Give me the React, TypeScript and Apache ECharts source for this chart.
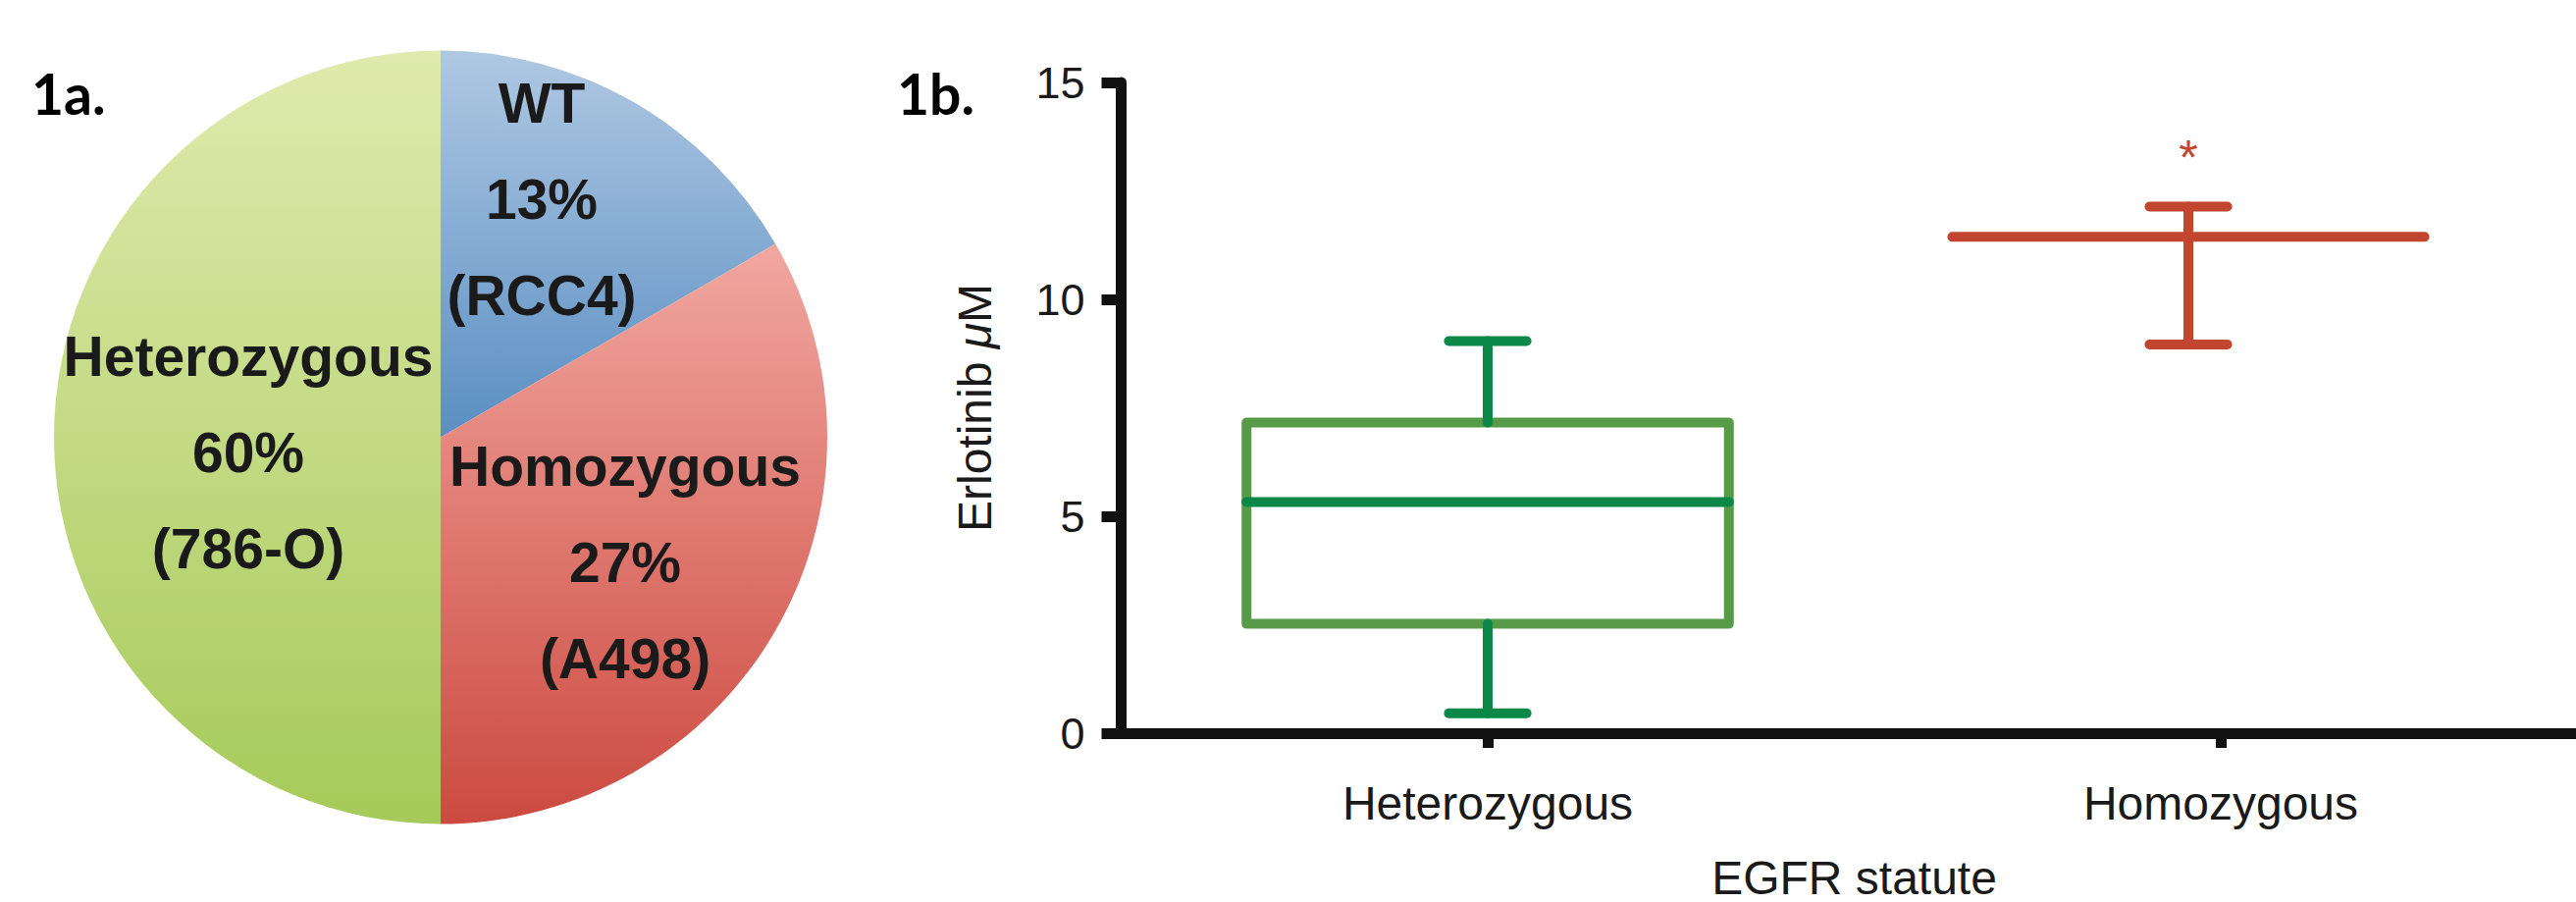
import React, { useEffect, useRef } from "react";
import * as echarts from "echarts";

// ---------- data ----------
const PIE_NAMES = ["WT", "Homozygous", "Heterozygous"];
const PIE_COUNTS = [1, 2, 3];
const PIE_PCT_LABELS = ["13%", "27%", "60%"];
const PIE_CELL_LINES = ["RCC4", "A498", "786-O"];

const CATEGORIES = ["Heterozygous", "Homozygous"];
const BOX_MIN = [0.46, 8.96];
const BOX_Q1 = [2.52, 11.44];
const BOX_MEDIAN = [5.33, 11.44];
const BOX_Q3 = [7.16, 11.44];
const BOX_MAX = [9.04, 12.14];
const SIG_MARKS = ["", "*"];
const SIG_Y: (number | null)[] = [null, 13.5];

const Y_MIN = 0;
const Y_MAX = 15;
const Y_INTERVAL = 5;

// ---------- styles / layout ----------
const PIE_GRADIENTS = [
  ["#afc8e2", "#5a8ec3"],
  ["#f1a7a0", "#cc4a40"],
  ["#e0eaae", "#a6ca59"],
];
const PIE_LABEL_POS = [
  [552, 203],
  [637, 573],
  [253, 461],
];
const BOX_COLORS = ["#579b49", "#c2452f"];
const LINE_COLORS = ["#0b8747", "#c2452f"];
const BOX_X_SHIFT = [0, -33];
const BOX_HALF_FRAC = [0.329, 0.322];
const CAP_HALF_FRAC = 0.053;
const FONT = '"Liberation Sans", Arial, Helvetica, sans-serif';
const AXIS_COLOR = "#111111";
const TEXT_COLOR = "#1a1a1a";

export default function App() {
  const ref = useRef<HTMLDivElement>(null);

  useEffect(() => {
    if (!ref.current) return;
    const chart = echarts.init(ref.current, undefined, { renderer: "svg" });

    const boxData = CATEGORIES.map((_, i) => [
      i,
      BOX_MIN[i],
      BOX_Q1[i],
      BOX_MEDIAN[i],
      BOX_Q3[i],
      BOX_MAX[i],
    ]);

    const option: any = {
      animation: false,
      backgroundColor: "#ffffff",
      graphic: [
        {
          type: "text",
          left: 32,
          top: 66,
          style: {
            text: "1a.",
            fontFamily: "Lato, 'Open Sans', sans-serif",
            fontWeight: "bold",
            fontSize: 57,
            fill: "#000000",
          },
        },
        {
          type: "text",
          left: 914,
          top: 66,
          style: {
            text: "1b.",
            fontFamily: "Lato, 'Open Sans', sans-serif",
            fontWeight: "bold",
            fontSize: 57,
            fill: "#000000",
          },
        },
      ],
      grid: {
        left: 1142.5,
        top: 84,
        width: 1494,
        height: 663,
        containLabel: false,
        outerBoundsMode: "none",
      },
      xAxis: {
        type: "category",
        data: CATEGORIES,
        boundaryGap: true,
        axisLine: { show: true, lineStyle: { color: AXIS_COLOR, width: 11 } },
        axisTick: {
          show: true,
          alignWithLabel: true,
          length: 15,
          lineStyle: { color: AXIS_COLOR, width: 11 },
        },
        axisLabel: {
          fontSize: 48,
          fontFamily: FONT,
          color: TEXT_COLOR,
          margin: 47,
        },
        splitLine: { show: false },
        name: "EGFR statute",
        nameLocation: "middle",
        nameGap: 123,
        nameTextStyle: { fontSize: 48, fontFamily: FONT, color: TEXT_COLOR },
      },
      yAxis: {
        type: "value",
        min: Y_MIN,
        max: Y_MAX,
        interval: Y_INTERVAL,
        axisLine: { show: true, lineStyle: { color: AXIS_COLOR, width: 11 } },
        axisTick: {
          show: true,
          length: 20,
          lineStyle: { color: AXIS_COLOR, width: 11 },
        },
        axisLabel: {
          fontSize: 45,
          fontFamily: FONT,
          color: TEXT_COLOR,
          margin: 37,
        },
        splitLine: { show: false },
        name: "{a|Erlotinib }{b|μ}{a|M}",
        nameLocation: "middle",
        nameGap: 125,
        nameTextStyle: {
          fontSize: 48,
          fontFamily: FONT,
          color: TEXT_COLOR,
          rich: {
            a: { fontSize: 48, fontFamily: FONT, color: TEXT_COLOR },
            b: {
              fontSize: 48,
              fontFamily: FONT,
              color: TEXT_COLOR,
              fontStyle: "italic",
            },
          },
        },
      },
      series: [
        {
          type: "pie",
          center: [449, 445.5],
          radius: 394,
          startAngle: 90,
          clockwise: true,
          silent: true,
          data: PIE_NAMES.map((name, i) => ({
            name,
            value: PIE_COUNTS[i],
            itemStyle: {
              color: {
                type: "linear",
                x: 0,
                y: 0,
                x2: 0,
                y2: 1,
                colorStops: [
                  { offset: 0, color: PIE_GRADIENTS[i][0] },
                  { offset: 1, color: PIE_GRADIENTS[i][1] },
                ],
              },
            },
          })),
          label: {
            show: true,
            position: "inside",
            formatter: (p: any) =>
              `${PIE_NAMES[p.dataIndex]}\n${PIE_PCT_LABELS[p.dataIndex]}\n(${PIE_CELL_LINES[p.dataIndex]})`,
            fontFamily: FONT,
            fontWeight: "bold",
            fontSize: 57,
            lineHeight: 98,
            color: TEXT_COLOR,
            align: "center",
          },
          labelLine: { show: false },
          labelLayout: (params: any) => ({
            x: PIE_LABEL_POS[params.dataIndex][0],
            y: PIE_LABEL_POS[params.dataIndex][1],
            align: "center",
            verticalAlign: "middle",
          }),
        },
        {
          type: "custom",
          xAxisIndex: 0,
          yAxisIndex: 0,
          data: boxData,
          encode: { x: 0, y: [1, 2, 3, 4, 5] },
          renderItem: (params: any, api: any) => {
            const i = params.dataIndex;
            const cat = api.value(0);
            const band = api.size([1, 0])[0];
            const halfBox = band * BOX_HALF_FRAC[i];
            const halfCap = band * CAP_HALF_FRAC;
            const base = api.coord([cat, api.value(1)]);
            const cx = base[0] + BOX_X_SHIFT[i];
            const yMin = base[1];
            const yQ1 = api.coord([cat, api.value(2)])[1];
            const yMed = api.coord([cat, api.value(3)])[1];
            const yQ3 = api.coord([cat, api.value(4)])[1];
            const yMax = api.coord([cat, api.value(5)])[1];
            const lc = LINE_COLORS[i];
            const lineStyle = { stroke: lc, lineWidth: 10, lineCap: "round" };
            const children: any[] = [];
            if (api.value(4) > api.value(2)) {
              children.push({
                type: "rect",
                shape: {
                  x: cx - halfBox,
                  y: yQ3,
                  width: halfBox * 2,
                  height: yQ1 - yQ3,
                },
                style: {
                  fill: "none",
                  stroke: BOX_COLORS[i],
                  lineWidth: 10,
                  lineJoin: "round",
                },
              });
            }
            children.push(
              { type: "line", shape: { x1: cx, y1: yQ3, x2: cx, y2: yMax }, style: lineStyle },
              { type: "line", shape: { x1: cx, y1: yQ1, x2: cx, y2: yMin }, style: lineStyle },
              { type: "line", shape: { x1: cx - halfCap, y1: yMax, x2: cx + halfCap, y2: yMax }, style: lineStyle },
              { type: "line", shape: { x1: cx - halfCap, y1: yMin, x2: cx + halfCap, y2: yMin }, style: lineStyle },
              { type: "line", shape: { x1: cx - halfBox, y1: yMed, x2: cx + halfBox, y2: yMed }, style: lineStyle }
            );
            const sy = SIG_Y[i];
            if (sy !== null && SIG_MARKS[i]) {
              const sp = api.coord([cat, sy]);
              children.push({
                type: "text",
                x: cx,
                y: sp[1] + 11,
                style: {
                  text: SIG_MARKS[i],
                  fill: lc,
                  fontSize: 50,
                  fontFamily: FONT,
                  align: "center",
                  verticalAlign: "middle",
                },
              });
            }
            return { type: "group", children };
          },
        },
      ],
    };

    chart.setOption(option);
    return () => {
      chart.dispose();
    };
  }, []);

  return (
    <div
      ref={ref}
      style={{
        position: "fixed",
        left: 0,
        top: 0,
        width: 2625,
        height: 919,
        background: "#ffffff",
      }}
    />
  );
}
